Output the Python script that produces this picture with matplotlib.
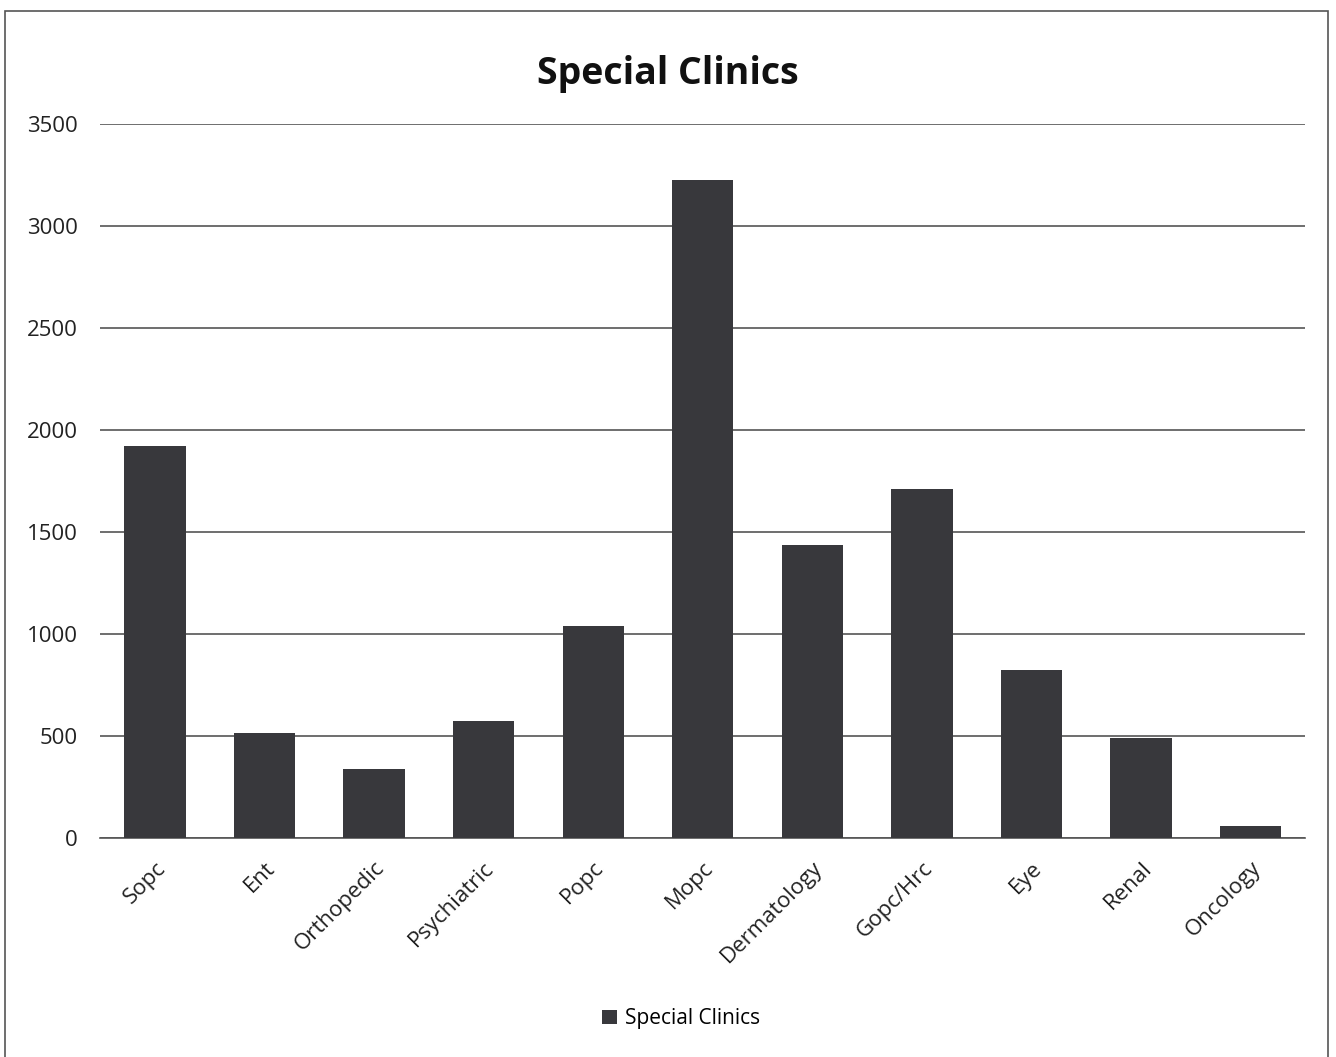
"""
Bar chart of patient counts per special clinic
"""

import matplotlib.pyplot as plt
from matplotlib.patches import Rectangle

clinics = ['Sopc', 'Ent', 'Orthopedic', 'Psychiatric', 'Popc', 'Mopc',
           'Dermatology', 'Gopc/Hrc', 'Eye', 'Renal', 'Oncology']
patients = [1920, 515, 340, 575, 1040, 3225, 1435, 1710, 825, 490, 60]
y_ticks = [0, 500, 1000, 1500, 2000, 2500, 3000, 3500]

plt.rcParams['font.family'] = ['Open Sans', 'DejaVu Sans']

fig = plt.figure(figsize=(13.36, 10.57), dpi=100)
ax = fig.add_axes([0.075, 0.207, 0.902, 0.676])

# Draw the bars
ax.bar(clinics, patients, width=0.56, color='#38383c', label='Special Clinics',
       zorder=3)

# Axes and grid
ax.set_ylim(0, 3500)
ax.set_xlim(-0.5, len(clinics) - 0.5)
ax.set_yticks(y_ticks)
ax.yaxis.grid(True, color='#555555', linewidth=1.2, zorder=0)
for side in ['top', 'right', 'left']:
    ax.spines[side].set_visible(False)
ax.spines['bottom'].set_color('#555555')
ax.spines['bottom'].set_linewidth(1.2)
ax.tick_params(axis='both', length=0, labelsize=16, labelcolor='#222222')
ax.tick_params(axis='y', pad=16)
ax.tick_params(axis='x', pad=14)
plt.setp(ax.get_xticklabels(), rotation=45, ha='right', rotation_mode='anchor')

# Title and legend
fig.suptitle('Special Clinics', y=0.948, fontsize=27, fontweight='bold',
             color='#111111')
fig.legend(loc='center', bbox_to_anchor=(0.51, 0.036), frameon=False,
           fontsize=15, handlelength=0.7, handleheight=0.7, handletextpad=0.4)

# Outer frame of the chart
fig.patches.append(Rectangle((0.004, -0.01), 0.99, 1.0, transform=fig.transFigure,
                             fill=False, edgecolor='#555555', linewidth=1.2))

plt.savefig('out.png')
